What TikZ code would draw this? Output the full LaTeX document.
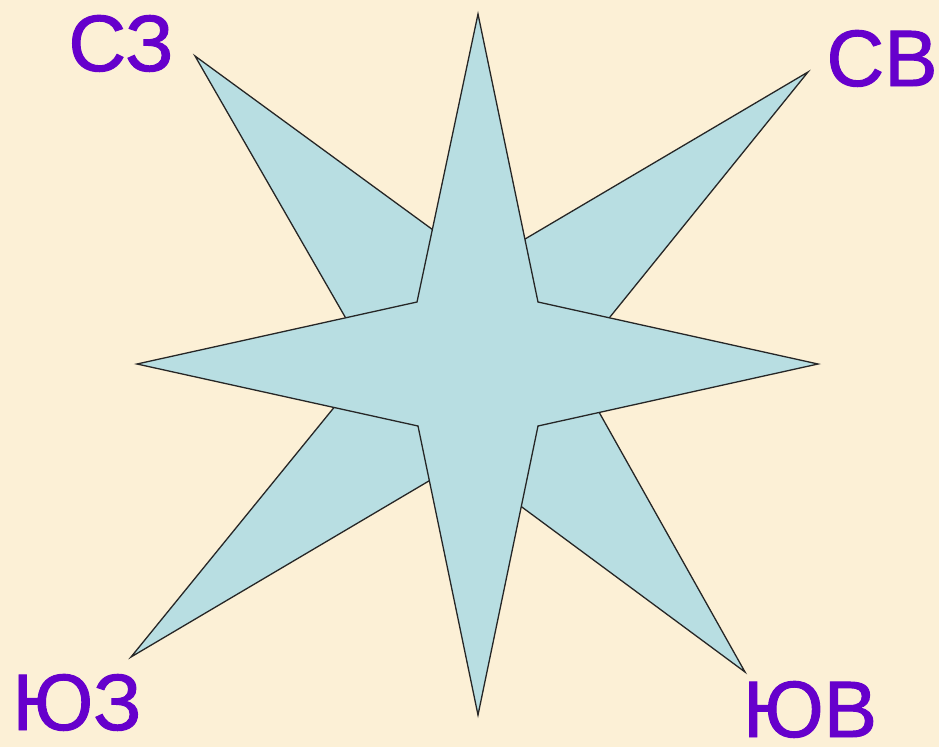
\documentclass[tikz,border=0pt]{standalone}
\usepackage{fontspec}
\setmainfont{Liberation Sans}
\newfontfamily\dirfont{Liberation Sans}[FakeBold=1.2]

\definecolor{fond}{RGB}{252,240,214}
\definecolor{etoile}{RGB}{184,222,226}
\definecolor{lettre}{RGB}{102,0,204}

\begin{document}
\begin{tikzpicture}[x=1pt,y=-1pt,
  rayon/.style={fill=etoile, draw=black!85, line width=1.3pt},
  direction/.style={text=lettre, font=\dirfont\fontsize{80}{80}\selectfont, inner sep=0pt, anchor=base}]

% -------------------------------------------------
% Fond
% -------------------------------------------------
\fill[fond] (0,0) rectangle (939,747);
\useasboundingbox (0,0) rectangle (939,747);

% -------------------------------------------------
% Etoile diagonale (derriere)
% -------------------------------------------------
\draw[rayon] (195,56) -- (481,265) -- (808,72) -- (572,364) -- (745,672)
  -- (461,462) -- (131,657) -- (371,362) -- cycle;

% -------------------------------------------------
% Etoile principale (devant)
% -------------------------------------------------
\draw[rayon] (478,14) -- (538,302) -- (818,364) -- (538,426) -- (478,715)
  -- (418,426) -- (137,364) -- (417,302) -- cycle;

% -------------------------------------------------
% Directions
% -------------------------------------------------
\node[direction] (nw) at (121,71) {СЗ};
\node[direction] (ne) at (882,86) {СВ};
\node[direction] (sw) at (77,730) {ЮЗ};
\node[direction] (se) at (810,737) {ЮВ};

\end{tikzpicture}
\end{document}
